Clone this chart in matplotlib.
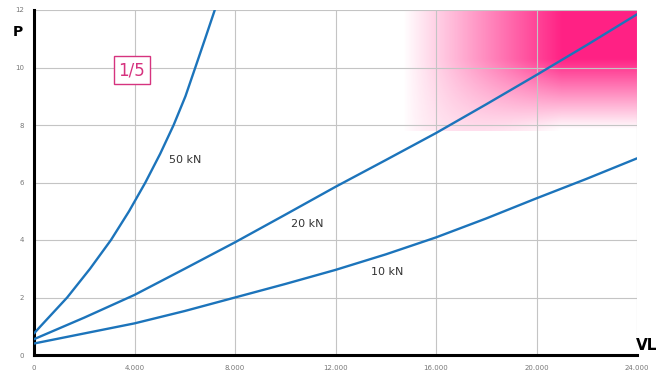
import numpy as np
import matplotlib
matplotlib.use("Agg")
import matplotlib.pyplot as plt
from matplotlib.ticker import FuncFormatter

# curves (VL, P)
vl_50 = [0, 260, 1320, 2230, 3063, 3783, 4433, 5023, 5558, 6028, 6420, 6810, 7195]
p_50 = [0.75, 1.0, 2.0, 3.0, 4.0, 5.0, 6.0, 7.0, 8.0, 9.0, 10.0, 11.0, 12.0]

vl_20 = [0, 2000, 4000, 6000, 8000, 10000, 12000, 14000, 16000, 18000, 20000, 22000, 24000]
p_20 = [0.55, 1.3, 2.09, 3.0, 3.92, 4.88, 5.85, 6.78, 7.72, 8.72, 9.74, 10.78, 11.85]

vl_10 = [0, 2000, 4000, 6000, 8000, 10000, 12000, 14000, 16000, 18000, 20000, 22000, 24000]
p_10 = [0.4, 0.75, 1.1, 1.53, 2.0, 2.47, 2.96, 3.5, 4.09, 4.75, 5.45, 6.13, 6.84]

curve_labels = ["50 kN", "20 kN", "10 kN"]
label_pos = [(6000, 6.78), (10890, 4.56), (14075, 2.89)]

xticks = [0, 4000, 8000, 12000, 16000, 20000, 24000]
yticks = [0, 2, 4, 6, 8, 10, 12]

BLUE = "#1c74bb"
PINK = "#d6337f"

fig = plt.figure(figsize=(6.7, 3.81), dpi=100)
ax = fig.add_axes([34 / 670, 26 / 381, 603 / 670, 345 / 381])

# pink gradient zone (upper right)
gx = np.linspace(14500, 24000, 400)
gy = np.linspace(7.8, 12, 200)
GX, GY = np.meshgrid(gx, gy)
hx = np.clip((GX - 14700) / (21000 - 14700), 0, 1)
vy = np.clip((GY - 7.85) / (10.3 - 7.85), 0, 1)
alpha = hx * (1 - (1 - vy) * np.sqrt(hx))
rgba = np.zeros(GX.shape + (4,))
rgba[..., 0] = 1.0
rgba[..., 1] = 0.13
rgba[..., 2] = 0.52
rgba[..., 3] = alpha
ax.imshow(rgba, extent=[14500, 24000, 7.8, 12], origin="lower", aspect="auto",
          interpolation="bilinear", zorder=0.1)

for xs, ys in [(vl_50, p_50), (vl_20, p_20), (vl_10, p_10)]:
  ax.plot(xs, ys, color=BLUE, lw=1.7, zorder=3, solid_capstyle="round")

for lab, (lx, ly) in zip(curve_labels, label_pos):
  ax.text(lx, ly, lab, fontsize=8, ha="center", va="center", color="#333333", zorder=4)

ax.text(3900, 9.9, "1/5", fontsize=12, ha="center", va="center", color=PINK, zorder=4,
        bbox=dict(boxstyle="square,pad=0.3", fc="white", ec=PINK, lw=1))

ax.set_xlim(0, 24000)
ax.set_ylim(0, 12)
ax.set_xticks(xticks)
ax.set_yticks(yticks)
ax.xaxis.set_major_formatter(FuncFormatter(lambda v, p: "0" if v == 0 else "{:,.0f}".format(v).replace(",", ".")))
ax.grid(True, color="#c4c4c4", lw=0.8, zorder=0.5)
ax.set_axisbelow(True)
for s in ("top", "right"):
  ax.spines[s].set_visible(False)
for s in ("left", "bottom"):
  ax.spines[s].set_linewidth(2.2)
  ax.spines[s].set_color("black")
ax.tick_params(axis="both", length=2, width=2, direction="inout", labelsize=5,
               labelcolor="#777777", pad=6)

fig.text(18 / 670, 1 - 32 / 381, "P", fontsize=10, fontweight="bold", ha="center", va="center")
fig.text(647 / 670, 1 - 345 / 381, "VL", fontsize=11, fontweight="bold", ha="center", va="center")

fig.savefig("out.png", dpi=100)
